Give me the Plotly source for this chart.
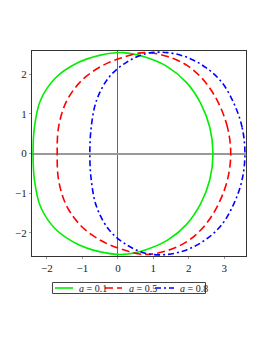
import plotly.graph_objects as go

# a = 0.1 (green): closed loop, upper half right->left then lower half left->right
g_x = [2.68, 2.59, 2.33, 1.93, 1.40, 0.79, 0.15, -0.52, -1.16, -1.76, -2.18, -2.35, -2.39,
       -2.35, -2.18, -1.76, -1.16, -0.52, 0.15, 0.79, 1.40, 1.93, 2.33, 2.59, 2.68]
g_y = [0.00, 0.66, 1.27, 1.79, 2.18, 2.42, 2.54, 2.47, 2.27, 1.90, 1.34, 0.67, 0.00,
       -0.67, -1.34, -1.90, -2.27, -2.47, -2.54, -2.42, -2.18, -1.79, -1.27, -0.66, 0.00]

# a = 0.5 (red)
r_x = [3.18, 3.09, 2.84, 2.46, 1.96, 1.37, 0.74, 0.11, -0.48, -1.03, -1.45, -1.67, -1.71,
       -1.67, -1.45, -1.03, -0.48, 0.11, 0.74, 1.37, 1.96, 2.46, 2.84, 3.09, 3.18]
r_y = [0.00, 0.65, 1.26, 1.80, 2.21, 2.45, 2.54, 2.41, 2.19, 1.83, 1.31, 0.67, 0.00,
       -0.67, -1.31, -1.83, -2.19, -2.41, -2.54, -2.45, -2.21, -1.80, -1.26, -0.65, 0.00]

# a = 0.8 (blue)
b_x = [3.58, 3.50, 3.27, 2.93, 2.47, 1.95, 1.40, 0.82, 0.25, -0.25, -0.60, -0.75, -0.79,
       -0.75, -0.60, -0.25, 0.25, 0.82, 1.40, 1.95, 2.47, 2.93, 3.27, 3.50, 3.58]
b_y = [0.00, 0.66, 1.26, 1.79, 2.17, 2.42, 2.54, 2.52, 2.30, 1.92, 1.34, 0.67, 0.00,
       -0.67, -1.34, -1.92, -2.30, -2.52, -2.54, -2.42, -2.17, -1.79, -1.26, -0.66, 0.00]

names = ["a", "a", "a"]
values = ["0.1", "0.5", "0.8"]
colors = ["#00ee00", "#ff0000", "#0000ff"]
dashes = ["solid", "8px,4px", "6px,3px,2px,3px"]
xticks = [-2, -1, 0, 1, 2, 3]
yticks = [-2, -1, 0, 1, 2]

fig = go.Figure()
for xs, ys, c, d, v in zip([g_x, r_x, b_x], [g_y, r_y, b_y], colors, dashes, values):
    fig.add_trace(go.Scatter(x=xs, y=ys, mode="lines", name="a = " + v, showlegend=False,
                             line=dict(color=c, width=1.6, shape="spline", smoothing=1.0, dash=d)))

serif = "Liberation Serif, Times New Roman, serif"
axis_font = dict(family=serif, size=11, color="#222")

# the page body has an 8px margin; positions below are in window pixels
OFF = 8
FW, FH = 266 - OFF, 344 - OFF
L, R, T, B = 32 - OFF, 246 - OFF, 51 - OFF, 256 - OFF
W, H = R - L, B - T
def px(xw):
    return (xw - OFF - L) / W
def py(yw):
    return (B - (yw - OFF)) / H

shapes = [dict(type="rect", xref="paper", yref="paper",
               x0=px(52.5), x1=px(205.5), y0=py(282.5), y1=py(293.5),
               line=dict(color="#444", width=1), fillcolor="white")]
annotations = []
line_starts = [55, 105, 155]
line_ends = [73, 122, 174]
text_starts = [77, 127, 178]
for s, e, t, c, d, n, v in zip(line_starts, line_ends, text_starts, colors, dashes, names, values):
    shapes.append(dict(type="line", xref="paper", yref="paper",
                       x0=px(s), x1=px(e), y0=py(288), y1=py(288),
                       line=dict(color=c, width=1.6, dash=d)))
    annotations.append(dict(xref="paper", yref="paper", x=px(t), y=py(288),
                            xanchor="left", yanchor="middle", showarrow=False,
                            text="<i>" + n + "</i> = " + v,
                            font=dict(family=serif, size=10, color="#222")))

fig.update_layout(
    width=FW, height=FH,
    margin=dict(l=L, r=FW - R, t=T, b=FH - B, pad=0, autoexpand=False),
    paper_bgcolor="white", plot_bgcolor="white",
    showlegend=False,
    shapes=shapes, annotations=annotations,
    xaxis=dict(range=[-2.42, 3.61], tickvals=xticks, showgrid=False,
               zeroline=True, zerolinecolor="#666", zerolinewidth=1,
               showline=True, mirror=True, linecolor="#333", linewidth=1,
               ticks="outside", ticklen=2, tickcolor="#999", tickfont=axis_font),
    yaxis=dict(range=[-2.58, 2.58], tickvals=yticks, showgrid=False,
               zeroline=True, zerolinecolor="#999", zerolinewidth=2,
               showline=True, mirror=True, linecolor="#333", linewidth=1,
               ticks="outside", ticklen=2, tickcolor="#999", tickfont=axis_font),
)
fig.write_html("out.html")
